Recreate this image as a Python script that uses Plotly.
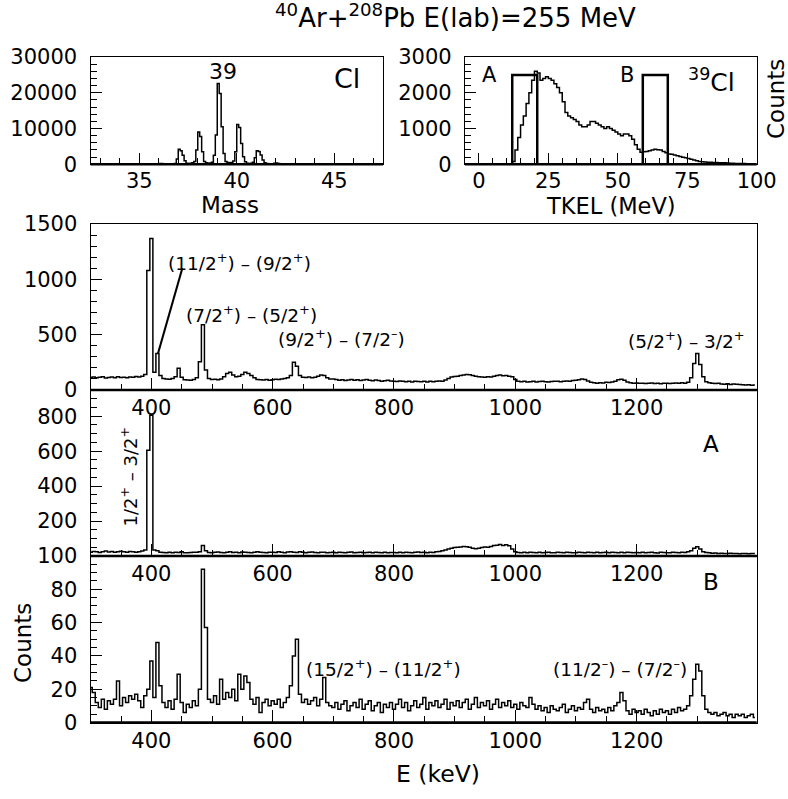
import plotly.graph_objects as go

# ---------------- data ----------------
title_text = "<sup>40</sup>Ar+<sup>208</sup>Pb E(lab)=255 MeV"

# Mass spectrum (Cl), bins of 0.1 starting at 35.5
mass_start = 35.5
mass_bin = 0.1
mass_counts = [0, 0, 0, 0, 100, 200, 200, 150, 100, 50,
               50, 50, 100, 200, 1500, 4200, 3800, 2500, 1000, 300,
               250, 300, 400, 800, 4000, 9000, 7800, 3500, 800, 400,
               300, 350, 600, 2500, 8200, 22600, 19800, 10500, 3000, 800,
               500, 400, 500, 900, 3500, 11100, 10300, 5800, 2100, 700,
               300, 200, 300, 600, 1800, 3800, 3600, 2600, 1200, 400,
               200, 100, 100, 150, 300, 350, 250, 100, 50, 0]

# TKEL distribution of 39Cl, 1 MeV bins from 0 to 100
tkel_start = 0
tkel_bin = 1
tkel_counts = [0] * 12 + [
    80, 400, 750, 1100, 1350, 1700, 2000, 2350, 2600, 2550,
    2350, 2400, 2450, 2400, 2350, 2250, 2150, 2000, 1750, 1450,
    1350, 1300, 1250, 1200, 1100, 1050, 1050, 1100, 1200, 1200,
    1150, 1100, 1050, 1000, 1050, 1000, 950, 900, 850, 800,
    850, 850, 800, 700, 550, 420, 340, 350, 360, 380,
    400, 420, 410, 400, 360, 320, 290, 280, 260, 240,
    220, 200, 180, 160, 140, 120, 100, 80, 70, 65,
    60, 55, 50, 50, 45, 40, 40, 35, 30, 30,
    25, 25, 20, 20, 15, 15, 10, 10]

gate_a = [12, 21]
gate_b = [59, 68]
gate_height = 2500

# Gamma spectra, 5 keV bins centred at 300, 305, ..., 1395
e_start = 300
e_bin = 5
spec_all = [
    112, 118, 110, 115, 120, 108, 114, 117, 111, 119, 113, 116, 110, 118, 115, 121, 117, 125, 140, 1080,
    1370, 160, 330, 130, 105, 100, 98, 104, 120, 196, 115, 92, 90, 88, 95, 110, 255, 590, 180, 105,
    95, 98, 92, 100, 120, 150, 160, 135, 120, 125, 140, 160, 150, 130, 110, 95, 92, 90, 95, 88,
    92, 98, 95, 100, 105, 110, 130, 250, 215, 130, 115, 112, 118, 110, 115, 125, 135, 130, 110, 100,
    100, 95, 88, 92, 85, 90, 94, 88, 92, 86, 90, 95, 88, 84, 90, 86, 80, 84, 88, 82,
    80, 76, 82, 78, 75, 80, 72, 78, 76, 74, 78, 72, 80, 75, 78, 82, 80, 90, 105, 118,
    122, 125, 130, 135, 140, 138, 130, 125, 120, 118, 115, 120, 118, 125, 130, 135, 128, 132, 125, 120,
    95, 80, 75, 78, 72, 75, 78, 72, 76, 80, 74, 72, 76, 78, 80, 75, 78, 82, 80, 85,
    88, 92, 100, 96, 82, 70, 65, 62, 66, 64, 70, 68, 72, 80, 92, 98, 88, 72, 66, 62,
    64, 60, 62, 58, 60, 64, 58, 60, 56, 62, 60, 58, 62, 64, 60, 66, 62, 70, 110, 240,
    330, 230, 120, 75, 65, 60, 58, 62, 55, 52, 56, 50, 54, 52, 50, 48, 45, 48, 44, 46]

spec_a = [
    22, 26, 24, 20, 25, 28, 23, 26, 22, 25, 27, 24, 21, 26, 24, 22, 25, 28, 35, 605,
    805, 35, 30, 22, 20, 18, 21, 19, 22, 20, 24, 19, 18, 20, 22, 21, 25, 60, 30, 20,
    19, 21, 23, 20, 18, 22, 24, 20, 21, 19, 23, 22, 20, 18, 21, 24, 22, 20, 19, 21,
    22, 20, 24, 21, 19, 23, 25, 22, 20, 24, 22, 19, 21, 23, 20, 18, 22, 21, 19, 20,
    21, 19, 22, 20, 18, 21, 23, 19, 20, 22, 18, 20, 21, 19, 22, 20, 18, 21, 19, 20,
    20, 18, 21, 19, 22, 20, 18, 21, 23, 20, 22, 19, 21, 20, 24, 26, 30, 34, 40, 45,
    48, 50, 52, 55, 53, 50, 45, 42, 44, 48, 52, 50, 55, 60, 62, 66, 60, 64, 58, 40,
    25, 20, 18, 21, 19, 22, 20, 18, 21, 19, 20, 22, 19, 18, 21, 20, 19, 22, 20, 18,
    19, 21, 20, 18, 22, 20, 19, 21, 18, 20, 22, 19, 21, 20, 18, 21, 19, 22, 20, 18,
    20, 19, 21, 18, 20, 22, 19, 17, 21, 20, 18, 19, 21, 20, 18, 22, 20, 24, 30, 45,
    53, 40, 25, 20, 18, 16, 17, 15, 16, 14, 15, 16, 14, 15, 13, 15, 14, 13, 15, 14]

spec_b = [
    21, 18, 12, 9, 14, 8, 13, 11, 14, 25, 10, 15, 12, 16, 14, 17, 13, 9, 16, 20,
    37, 15, 48, 22, 12, 9, 13, 8, 14, 29, 12, 6, 11, 9, 13, 10, 20, 92, 57, 14,
    12, 16, 11, 26, 14, 18, 15, 20, 13, 29, 20, 28, 24, 14, 11, 15, 6, 12, 14, 10,
    13, 11, 14, 9, 12, 15, 22, 40, 50, 17, 12, 14, 11, 13, 15, 10, 14, 27, 12, 10,
    9, 12, 8, 11, 13, 7, 10, 12, 9, 14, 8, 11, 13, 7, 10, 12, 6, 11, 9, 12,
    8, 11, 14, 9, 12, 7, 10, 13, 9, 11, 15, 8, 12, 10, 13, 9, 11, 14, 8, 12,
    10, 13, 9, 12, 14, 8, 11, 15, 9, 12, 10, 13, 8, 11, 14, 9, 12, 10, 13, 9,
    11, 8, 12, 10, 9, 15, 11, 8, 10, 7, 9, 6, 10, 8, 7, 9, 11, 6, 8, 10,
    7, 9, 8, 12, 14, 8, 6, 9, 7, 8, 6, 9, 7, 10, 12, 18, 13, 7, 5, 8,
    6, 7, 5, 8, 6, 4, 7, 5, 8, 6, 7, 5, 8, 6, 9, 7, 8, 10, 16, 26,
    35, 31, 16, 8, 6, 5, 6, 4, 5, 6, 4, 5, 3, 5, 4, 5, 3, 4, 5, 3]

# ---------------- derived bin centres ----------------
mass_x = [mass_start + mass_bin * (i + 0.5) for i in range(len(mass_counts))]
tkel_x = [tkel_start + tkel_bin * (i + 0.5) for i in range(len(tkel_counts))]
e_x = [e_start + e_bin * i for i in range(len(spec_all))]

FONT = "DejaVu Sans"
W, H = 788, 799


def fx(p):
    return p / W


def fy(p):
    return 1 - p / H


LINE = dict(color="black", width=1.5, shape="hvh")

fig = go.Figure()
fig.add_trace(go.Scatter(x=mass_x, y=mass_counts, mode="lines", line=LINE, xaxis="x", yaxis="y"))
fig.add_trace(go.Scatter(x=tkel_x, y=tkel_counts, mode="lines", line=LINE, xaxis="x2", yaxis="y2"))
for g in (gate_a, gate_b):
    fig.add_trace(go.Scatter(x=[g[0], g[0], g[1], g[1]], y=[0, gate_height, gate_height, 0],
                             mode="lines", line=dict(color="black", width=2.5),
                             xaxis="x2", yaxis="y2"))
fig.add_trace(go.Scatter(x=e_x, y=spec_all, mode="lines", line=LINE, xaxis="x3", yaxis="y3"))
fig.add_trace(go.Scatter(x=e_x, y=spec_a, mode="lines", line=LINE, xaxis="x4", yaxis="y4"))
fig.add_trace(go.Scatter(x=e_x, y=spec_b, mode="lines", line=LINE, xaxis="x5", yaxis="y5"))

tickfont = dict(family=FONT, size=21, color="black")


def axis(domain, anchor, rng, major, minor_dtick, standoff, ticklen=11, tickvals=None):
    d = dict(domain=domain, anchor=anchor, range=rng, showline=True, linecolor="black",
             linewidth=1.3, mirror=True, ticks="inside", ticklen=ticklen, tickwidth=1,
             tickcolor="black", showgrid=False, zeroline=False, tickfont=tickfont,
             ticklabelstandoff=standoff, fixedrange=True,
             exponentformat="none", separatethousands=False, tickformat="d",
             minor=dict(ticks="inside", ticklen=6, tickwidth=1, tickcolor="black",
                        tickmode="linear", tick0=0, dtick=minor_dtick, showgrid=False))
    if tickvals is not None:
        d["tickmode"] = "array"
        d["tickvals"] = tickvals
    else:
        d["tickmode"] = "linear"
        d["tick0"] = 0
        d["dtick"] = major
    return d


XS_TOP = -3  # x tick-label standoff, top panels
XS = -1      # x tick-label standoff, spectra
YS = 8       # y tick-label standoff
top_y = [fy(164.3), fy(57)]
e_dom = [fx(90.7), fx(756.7)]
e_rng = [300, 1398]
fig.update_layout(
    width=W, height=H, margin=dict(l=0, r=0, t=0, b=0, autoexpand=False),
    paper_bgcolor="white", plot_bgcolor="rgba(0,0,0,0)", showlegend=False,
    font=dict(family=FONT, color="black"),
    xaxis=axis([fx(90.5), fx(383)], "y", [32.5, 47.5], 5, 1, XS_TOP),
    yaxis=axis(top_y, "x", [0, 30000], 10000, 2000, YS),
    xaxis2=axis([fx(465), fx(756.7)], "y2", [-5, 100], 25, 5, XS_TOP),
    yaxis2=axis(top_y, "x2", [0, 3000], 1000, 200, YS),
    xaxis3=axis(e_dom, "y3", e_rng, 200, 50, XS, ticklen=12),
    yaxis3=axis([fy(390), fy(224)], "x3", [0, 1500], 500, 100, YS),
    xaxis4=axis(e_dom, "y4", e_rng, 200, 50, XS, ticklen=12),
    yaxis4=axis([fy(556), fy(390)], "x4", [0, 950], 200, 50, YS, tickvals=[200, 400, 600, 800]),
    xaxis5=axis(e_dom, "y5", e_rng, 200, 50, XS, ticklen=12),
    yaxis5=axis([fy(722.5), fy(556)], "x5", [0, 100], 20, 5, YS),
)

shapes = []
for xr, yr in (("x", "y"), ("x2", "y2"), ("x3", "y3"), ("x4", "y4"), ("x5", "y5")):
    shapes.append(dict(type="line", xref=xr + " domain", yref=yr + " domain", x0=0, x1=1, y0=0, y1=0,
                       line=dict(color="black", width=2.6)))
shapes.append(dict(type="line", xref="x3", yref="y3", x0=411, y0=331, x1=451, y1=1099,
                   line=dict(color="black", width=2)))
fig.update_layout(shapes=shapes)

ann = []


def A(text, x, y, xref, yref, size, angle=0, xanchor="center", yanchor="middle"):
    ann.append(dict(text=text, x=x, y=y, xref=xref, yref=yref, showarrow=False,
                    font=dict(family=FONT, size=size, color="black"), textangle=angle,
                    xanchor=xanchor, yanchor=yanchor))


A(title_text, fx(455), fy(16), "paper", "paper", 26)
A("Mass", fx(229.5), fy(205), "paper", "paper", 23)
A("TKEL (MeV)", fx(611), fy(206), "paper", "paper", 22.5)
A("Counts", fx(776), fy(99), "paper", "paper", 23, angle=-90)
A("Counts", fx(23), fy(643), "paper", "paper", 23, angle=-90)
A("E (keV)", fx(437.5), fy(774), "paper", "paper", 23.5)

A("39", 39.31, 25890, "x", "y", 22)
A("Cl", 45.64, 24045, "x", "y", 27)
A("A", 3.75, 2495, "x2", "y2", 21)
A("B", 53.4, 2495, "x2", "y2", 21)
A("<sup>39</sup>Cl", 83.8, 2355, "x2", "y2", 25)

A("(11/2<sup>+</sup>) – (9/2<sup>+</sup>)", 546, 1156, "x3", "y3", 18.5)
A("(7/2<sup>+</sup>) – (5/2<sup>+</sup>)", 564.6, 687, "x3", "y3", 18.5)
A("(9/2<sup>+</sup>) – (7/2<sup>–</sup>)", 714, 467, "x3", "y3", 18.5)
A("(5/2<sup>+</sup>) – 3/2<sup>+</sup>", 1283, 452, "x3", "y3", 18.5)

A("A", 1322, 643, "x4", "y4", 23)
A("1/2<sup>+</sup> – 3/2<sup>+</sup>", 364, 452, "x4", "y4", 18, angle=-90)

A("B", 1322, 84.6, "x5", "y5", 23)
A("(15/2<sup>+</sup>) – (11/2<sup>+</sup>)", 782, 32.6, "x5", "y5", 18.5)
A("(11/2<sup>–</sup>) – (7/2<sup>–</sup>)", 1172, 32.6, "x5", "y5", 18.5)

fig.update_layout(annotations=ann)
fig.write_html("out.html", config={"displayModeBar": False},
               post_script="document.body.style.margin='0';document.body.style.overflow='hidden';")
